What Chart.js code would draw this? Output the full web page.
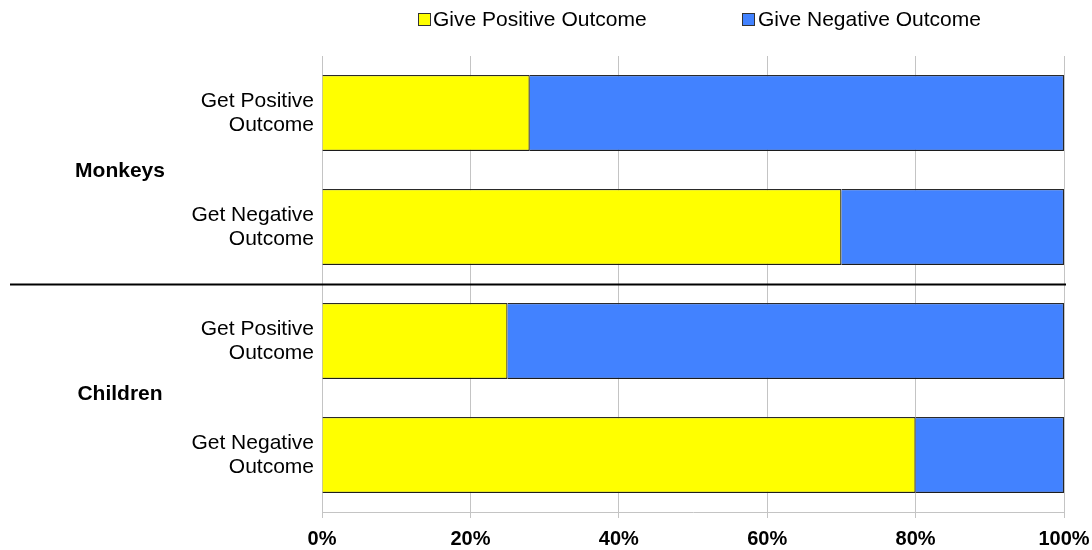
<!DOCTYPE html>
<html>
<head>
<meta charset="utf-8">
<script src="https://cdn.jsdelivr.net/npm/chart.js@4.4.1/dist/chart.umd.min.js"></script>
<style>
  html, body { margin: 0; padding: 0; background: #fff; }
  #wrap { width: 1092px; height: 550px; position: relative; }
</style>
</head>
<body>
<div id="wrap"><canvas id="c" width="1092" height="550"></canvas></div>
<script>
// ---- Data ----
const categories = [
  ['Get Positive', 'Outcome'],
  ['Get Negative', 'Outcome'],
  ['Get Positive', 'Outcome'],
  ['Get Negative', 'Outcome']
];
const groups = ['Monkeys', 'Children'];
const groupSize = [2, 2];
const givePositive = [28, 70, 25, 80];
const giveNegative = [72, 30, 75, 20];
const seriesNames = ['Give Positive Outcome', 'Give Negative Outcome'];
const seriesColors = ['#FFFF00', '#4282FF'];
const xTicks = [0, 20, 40, 60, 80, 100];

const FONT = '"Liberation Sans", Arial, sans-serif';

const shadowPlugin = {
  id: 'barShadow',
  beforeDatasetsDraw(chart) {
    const ctx = chart.ctx;
    ctx.save();
    ctx.shadowColor = 'rgba(0,0,0,0.35)';
    ctx.shadowBlur = 2;
    ctx.shadowOffsetX = 0;
    ctx.shadowOffsetY = 2;
  },
  afterDatasetsDraw(chart) {
    chart.ctx.restore();
  }
};

const extrasPlugin = {
  id: 'extras',
  afterDraw(chart) {
    const ctx = chart.ctx;
    const y = chart.scales.y;
    const area = chart.chartArea;
    ctx.save();
    // group labels and separators
    let start = 0;
    ctx.font = 'bold 21px ' + FONT;
    ctx.fillStyle = '#000';
    ctx.textAlign = 'center';
    ctx.textBaseline = 'middle';
    groups.forEach((g, i) => {
      const end = start + groupSize[i] - 1;
      const mid = (y.getPixelForValue(start) + y.getPixelForValue(end)) / 2;
      ctx.fillText(g, 120, mid + (i === 0 ? 1 : -4));
      if (i < groups.length - 1) {
        const sepY = Math.round(y.getPixelForValue(end + 0.5)) + 0.5;
        ctx.beginPath();
        ctx.strokeStyle = '#000';
        ctx.lineWidth = 2;
        ctx.moveTo(10, sepY);
        ctx.lineTo(area.right + 2, sepY);
        ctx.stroke();
      }
      start = end + 1;
    });
    // legend
    const items = [{ box: 418, text: 433 }, { box: 742, text: 758 }];
    ctx.font = '21px ' + FONT;
    ctx.textAlign = 'left';
    ctx.textBaseline = 'middle';
    chart.data.datasets.forEach((ds, i) => {
      const it = items[i];
      ctx.fillStyle = ds.backgroundColor;
      ctx.fillRect(it.box + 0.5, 13.5, 12, 12);
      ctx.strokeStyle = '#333';
      ctx.lineWidth = 1;
      ctx.strokeRect(it.box + 0.5, 13.5, 12, 12);
      ctx.fillStyle = '#000';
      ctx.fillText(ds.label, it.text, 20);
    });
    ctx.restore();
  }
};

new Chart(document.getElementById('c'), {
  type: 'bar',
  data: {
    labels: categories,
    datasets: [
      { label: seriesNames[0], data: givePositive, backgroundColor: seriesColors[0],
        borderColor: '#2a2a2a', borderWidth: 1.2 },
      { label: seriesNames[1], data: giveNegative, backgroundColor: seriesColors[1],
        borderColor: '#2a2a2a', borderWidth: 1.2 }
    ]
  },
  options: {
    indexAxis: 'y',
    responsive: false,
    animation: false,
    devicePixelRatio: 1,
    datasets: { bar: { categoryPercentage: 1, barPercentage: 0.667 } },
    layout: { padding: { top: 56, right: 28, left: 0, bottom: 0 } },
    plugins: {
      legend: { display: false },
      tooltip: { enabled: false },
      title: { display: false }
    },
    scales: {
      x: {
        stacked: true,
        min: 0, max: 100,
        afterBuildTicks(scale) { scale.ticks = xTicks.map(v => ({ value: v })); },
        afterFit(scale) { scale.height = 38; scale.paddingLeft = 0; scale.paddingRight = 0; },
        grid: { color: '#c4c4c4', lineWidth: 1, tickLength: 6, drawTicks: true, tickColor: '#c4c4c4' },
        border: { display: true, color: '#c4c4c4', width: 1 },
        ticks: {
          padding: 9,
          color: '#000',
          font: { family: FONT, size: 20, weight: 'bold' },
          callback: v => v + '%',
          maxRotation: 0
        }
      },
      y: {
        stacked: true,
        afterFit(scale) { scale.width = 322; scale.paddingTop = 0; scale.paddingBottom = 0; },
        grid: { display: false, drawTicks: false, tickLength: 0 },
        border: { display: true, color: '#c4c4c4', width: 1 },
        ticks: {
          padding: 8,
          color: '#000',
          font: { family: FONT, size: 21, lineHeight: 1.143 }
        }
      }
    }
  },
  plugins: [shadowPlugin, extrasPlugin]
});
</script>
</body>
</html>
